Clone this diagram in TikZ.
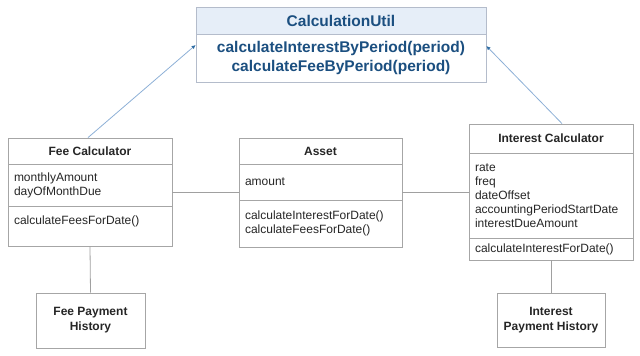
\documentclass[tikz,border=0pt]{standalone}
\usepackage{fontspec}
\setmainfont{Liberation Sans}
\usepackage{tikz}
\usetikzlibrary{positioning, arrows.meta, calc}
\definecolor{boxgray}{HTML}{A6A6A6}
\definecolor{linkgray}{HTML}{A0A0A0}
\definecolor{textdark}{HTML}{262626}
\definecolor{utilborder}{HTML}{B4BCCB}
\definecolor{utilfill}{HTML}{E6EEF8}
\definecolor{utiltext}{HTML}{1B4F80}
\definecolor{arrowline}{HTML}{8DB0D6}
\definecolor{arrowtip}{HTML}{2E6DA4}
\tikzset{
	classhead/.style={
			draw=boxgray,
			thick,
			fill=white,
			text=textdark,
			font=\fontsize{12}{14}\selectfont\bfseries,
			minimum width=164pt,
			minimum height=26pt,
			inner sep=0pt
		},
	compart/.style={
			draw=boxgray,
			thick,
			fill=white,
			text=textdark,
			font=\fontsize{12}{14}\selectfont,
			align=left,
			text width=152pt,
			inner xsep=6pt,
			inner ysep=0pt
		},
	histbox/.style={
			draw=boxgray,
			thick,
			fill=white,
			text=textdark,
			font=\fontsize{12}{15}\selectfont\bfseries,
			align=center,
			inner sep=0pt
		},
	utilhead/.style={
			draw=utilborder,
			thick,
			fill=utilfill,
			text=utiltext,
			font=\fontsize{15.5}{18}\selectfont\bfseries,
			minimum width=290pt,
			minimum height=27pt,
			inner sep=0pt
		},
	utilbody/.style={
			utilhead,
			fill=white,
			align=center,
			font=\fontsize{15.5}{19}\selectfont\bfseries,
			minimum height=48pt
		},
	assoc/.style={
			draw=linkgray,
			thick
		},
	uses/.style={
			draw=arrowline,
			thick,
			-{Latex[length=4pt, width=4pt, color=arrowtip]}
		}
}

\begin{document}
\begin{tikzpicture}[x=1pt, y=-1pt]
    \useasboundingbox (0,0) rectangle (640,356);

    % utility class
    \node[utilhead] (util) at (341,20.5) {CalculationUtil};
    \node[utilbody] (utilops) at (341,58) {calculateInterestByPeriod(period)\\calculateFeeByPeriod(period)};

    % fee calculator
    \node[classhead] (fee) at (90,151) {Fee Calculator};
    \node[compart, minimum height=42pt] (feeattr) at (90,185) {monthlyAmount\\dayOfMonthDue};
    \node[compart, minimum height=40pt, text height=9pt, text depth=13pt] (feeops) at (90,226) {calculateFeesForDate()};

    % asset
    \node[classhead, minimum width=163pt] (asset) at (320.5,151) {Asset};
    \node[compart, text width=151pt, minimum height=36pt] (assetattr) at (320.5,182) {amount};
    \node[compart, text width=151pt, minimum height=47pt] (assetops) at (320.5,223.5) {calculateInterestForDate()\\calculateFeesForDate()};

    % interest calculator
    \node[classhead, minimum height=29pt] (intcalc) at (551,138.5) {Interest Calculator};
    \node[compart, minimum height=85pt] (intattr) at (551,195.5) {rate\\freq\\dateOffset\\accountingPeriodStartDate\\interestDueAmount};
    \node[compart, minimum height=22pt] (intops) at (551,249) {calculateInterestForDate()};

    % payment histories
    \node[histbox, minimum width=109pt, minimum height=55pt] (feehist) at (90.5,320.5) {Fee Payment\\History};
    \node[histbox, minimum width=108pt, minimum height=54pt] (inthist) at (551,320) {Interest\\Payment History};

    \draw[assoc] ([yshift=-7pt]feeattr.east) -- ([yshift=-7pt]feeattr.east -| assetattr.west);
    \draw[assoc] ([yshift=-10pt]assetattr.east) -- ([yshift=-10pt]assetattr.east -| intattr.west);
    \draw[assoc] (feeops.south) -- (feehist.north);
    \draw[assoc] (intops.south) -- (inthist.north);

    \draw[uses] ([xshift=-2pt]fee.north) -- ([yshift=13pt]utilops.west);
    \draw[uses] ([xshift=11pt]intcalc.north) -- ([yshift=12pt]utilops.east);
\end{tikzpicture}
\end{document}
